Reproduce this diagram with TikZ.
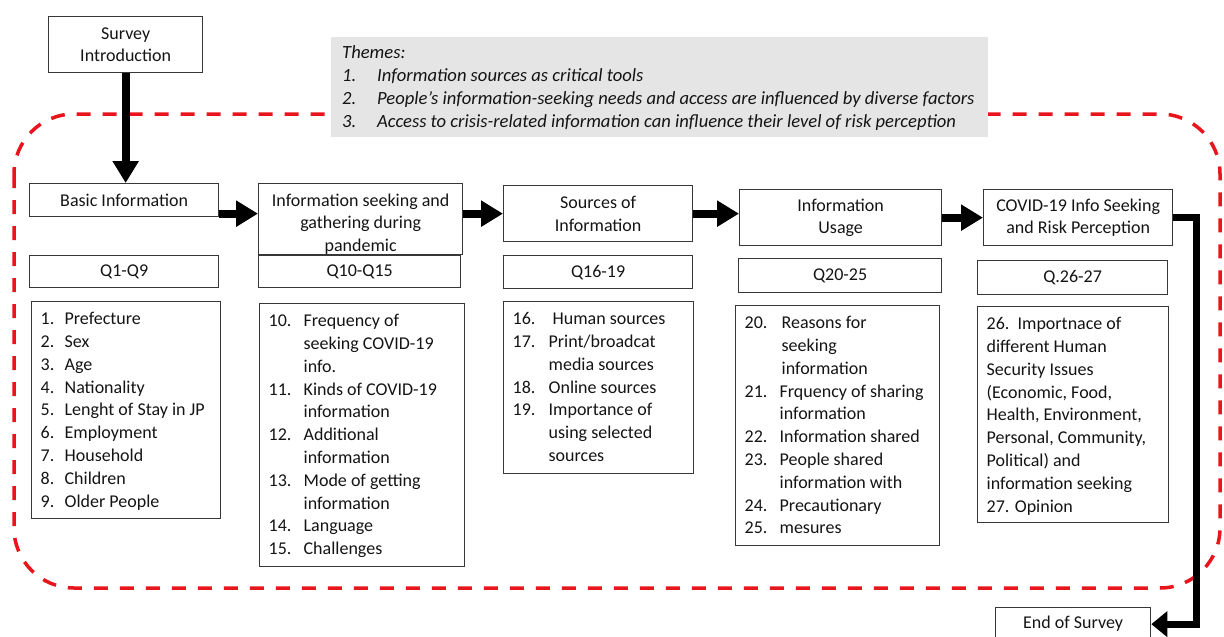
\documentclass[tikz,border=0pt]{standalone}
\usepackage{fontspec}
\setmainfont{Carlito}
\usetikzlibrary{arrows.meta}
\definecolor{framered}{RGB}{232,22,28}
\definecolor{themegray}{RGB}{229,229,229}
\definecolor{boxline}{RGB}{55,55,55}
\definecolor{txt}{RGB}{20,20,20}
\newcommand{\bodyfont}{\fontsize{18}{22.8}\selectfont}
\newcommand{\headfont}{\fontsize{18}{22.5}\selectfont}
\newcommand{\themefont}{\fontsize{18.6}{23}\selectfont}
\begin{document}
\begin{tikzpicture}[x=1pt,y=-1pt,
  box/.style={draw=boxline, line width=1.3pt, inner sep=0pt, text=txt, font=\headfont, align=center, anchor=north west},
  listbox/.style={draw=boxline, line width=1.3pt, inner xsep=9pt, inner ysep=0pt, text=txt, font=\bodyfont, anchor=north west},
  themebox/.style={fill=themegray, draw=none, inner xsep=11pt, inner ysep=0pt, text=txt, font=\themefont\itshape, anchor=north west},
  bigarrow/.style={line width=8pt, draw=black, -{Triangle[length=22pt,width=25pt]}},
  sidearrow/.style={line width=7pt, draw=black, line join=miter, -{Triangle[length=16pt,width=25pt]}},
  redframe/.style={draw=framered, line width=3.5pt, dash pattern=on 14pt off 12pt, rounded corners=60pt}
]
\useasboundingbox (0,0) rectangle (1224,637);

% dashed frame
\draw[redframe] (14,114) rectangle (1220,588);

% themes
\node[themebox, minimum width=657pt, minimum height=100pt] (themes) at (331,37)
  {\parbox[c][100pt][t]{635pt}{\vspace*{5pt}\begin{tabular}{@{}p{35pt}@{}l@{}}
   \multicolumn{2}{@{}l@{}}{Themes:}\\
   1. & Information sources as critical tools\\
   2. & People's information-seeking needs and access are influenced by diverse factors\\
   3. & Access to crisis-related information can influence their level of risk perception
   \end{tabular}}};

% intro
\node[box, minimum width=154pt, minimum height=56pt] (intro) at (48,16) {Survey\\Introduction};

% headers
\node[box, minimum width=189pt, minimum height=33pt] (basic) at (29,183) {Basic Information};
\node[box, minimum width=204pt, minimum height=71pt] (seek) at (258,183)
  {\parbox[c][71pt][t]{200pt}{\centering\vspace*{7pt}\strut Information seeking and\\gathering during\\pandemic}};
\node[box, minimum width=189pt, minimum height=56pt] (sources) at (503,185) {Sources of\\Information};
\node[box, minimum width=202pt, minimum height=56pt] (usage) at (739,189) {Information\\Usage};
\node[box, minimum width=189pt, minimum height=56pt] (covid) at (983,189) {COVID-19 Info Seeking\\and Risk Perception};

% question ranges
\node[box, minimum width=189pt, minimum height=32pt] (q1) at (29,255) {Q1-Q9};
\node[box, minimum width=202pt, minimum height=32pt] (q2) at (258,255) {Q10-Q15};
\node[box, minimum width=189pt, minimum height=33pt] (q3) at (503,255) {Q16-19};
\node[box, minimum width=203pt, minimum height=34pt] (q4) at (738,258) {Q20-25};
\node[box, minimum width=190pt, minimum height=34pt] (q5) at (977,260) {Q.26-27};

% lists
\node[listbox, minimum width=189pt, minimum height=217pt] (l1) at (31,301)
  {\parbox[c][217pt][t]{171pt}{\vspace*{7pt}\begin{tabular}{@{}p{24pt}@{}l@{}}
   1. & Prefecture\\ 2. & Sex\\ 3. & Age\\ 4. & Nationality\\ 5. & Lenght of Stay in JP\\
   6. & Employment\\ 7. & Household\\ 8. & Children\\ 9. & Older People
   \end{tabular}}};
\node[listbox, minimum width=205pt, minimum height=263pt] (l2) at (259,303)
  {\parbox[c][263pt][t]{187pt}{\vspace*{7pt}\begin{tabular}{@{}p{35pt}@{}l@{}}
   10. & Frequency of\\ & seeking COVID-19\\ & info.\\
   11. & Kinds of COVID-19\\ & information\\
   12. & Additional\\ & information\\
   13. & Mode of getting\\ & information\\
   14. & Language\\ 15. & Challenges
   \end{tabular}}};
\node[listbox, minimum width=190pt, minimum height=172pt] (l3) at (503,301)
  {\parbox[c][172pt][t]{172pt}{\vspace*{7pt}\begin{tabular}{@{}p{36pt}@{}l@{}}
   16. & \hspace{4pt}Human sources\\
   17. & Print/broadcat\\ & media sources\\
   18. & Online sources\\
   19. & Importance of\\ & using selected\\ & sources
   \end{tabular}}};
\node[listbox, minimum width=204pt, minimum height=240pt] (l4) at (735,305)
  {\parbox[c][240pt][t]{186pt}{\vspace*{7pt}\begin{tabular}{@{}p{35pt}@{}l@{}}
   20. & \hspace{2pt}Reasons for\\ & \hspace{2pt}seeking\\ & \hspace{2pt}information\\
   21. & Frquency of sharing\\ & information\\
   22. & Information shared\\
   23. & People shared\\ & information with\\
   24. & Precautionary\\
   25. & mesures
   \end{tabular}}};
\node[listbox, minimum width=191pt, minimum height=216pt] (l5) at (977,306)
  {\parbox[c][216pt][t]{173pt}{\vspace*{7pt}\begin{tabular}{@{}l@{}}
   26.\ \ Importnace of\\ different Human\\ Security Issues\\ (Economic, Food,\\
   Health, Environment,\\ Personal, Community,\\ Political) and\\
   information seeking\\ 27. Opinion
   \end{tabular}}};

% end
\node[box, minimum width=155pt, minimum height=33pt] (endbox) at (995,607) {End of Survey};

% arrows
\draw[bigarrow] (intro.south) -- (intro.south |- basic.north);
\draw[bigarrow] (basic.east |- sources.west) -- (seek.west |- sources.west);
\draw[bigarrow] (seek.east |- sources.west) -- (sources.west);
\draw[bigarrow] (sources.east) -- (usage.west |- sources.east);
\draw[bigarrow] (usage.east) -- (covid.west |- usage.east);
\coordinate (rt) at (1196,400);
\draw[sidearrow] (covid.east) -- (covid.east -| rt) -- (rt |- endbox.east) -- (endbox.east);
\end{tikzpicture}
\end{document}
